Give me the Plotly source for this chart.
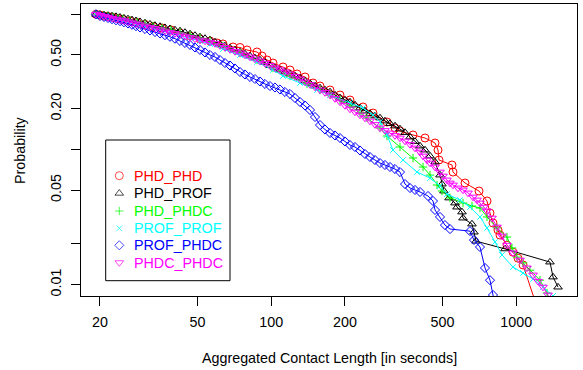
import plotly.graph_objects as go

# ---------------- data ----------------
names = ["PHD_PHD", "PHD_PROF", "PHD_PHDC", "PROF_PROF", "PROF_PHDC", "PHDC_PHDC"]

phd_phd_x = [19.26, 20.0, 20.77, 21.56, 22.60, 23.69, 24.82, 26.51, 28.32, 30.53, 32.92, 35.82, 38.99, 42.42, 46.62, 51.20,
             56.24, 60.06, 63.54, 69.82, 74.55, 79.62, 87.46, 91.67, 96.08, 101.66, 111.69, 119.28, 127.41, 137.36, 148.08,
             158.15, 173.74, 190.82, 209.62, 236.90, 260.22, 296.80, 319.98, 335.40, 379.0, 424.3, 466.1, 479.4, 483.9,
             546.7, 551.9, 617.8, 704.6, 759.7, 781.4, 803.7, 842.4, 858.4, 916.8, 969.9, 1017, 1066, 1227]
phd_phd_y = [1.0, 0.9882, 0.9715, 0.9632, 0.9469, 0.9310, 0.9152, 0.8921, 0.8696, 0.8405, 0.8124, 0.7919, 0.7653, 0.7272, 0.6910, 0.6566,
             0.6346, 0.6134, 0.6030, 0.5730, 0.5681, 0.5444, 0.5262, 0.4915, 0.4591, 0.4362, 0.4075, 0.3872, 0.3617, 0.3437, 0.3103,
             0.2948, 0.2754, 0.2529, 0.2323, 0.2062, 0.1861, 0.1597, 0.1442, 0.1370, 0.1280, 0.1216, 0.1117, 0.0991, 0.0836,
             0.0768, 0.0681, 0.0565, 0.0493, 0.0416, 0.0339, 0.0286, 0.0254, 0.0233, 0.0196, 0.0174, 0.0157, 0.0140, 0.0065]

phd_prof_x = [19.26, 20.00, 20.77, 21.56, 22.39, 23.25, 24.14, 25.06, 26.02, 27.02, 28.05, 29.13, 30.53, 32.00, 33.54,
              35.15, 36.84, 38.61, 40.47, 42.42, 44.45, 46.62, 48.83, 51.20, 53.66, 56.24, 58.94, 61.77, 64.74, 67.86,
              71.12, 74.55, 78.13, 81.90, 85.83, 89.96, 94.28, 98.82, 103.57, 108.55, 113.77, 119.28, 125.01, 131.06,
              137.36, 143.96, 150.88, 158.15, 165.74, 173.74, 182.09, 190.82, 200.01, 209.62, 219.70, 230.30, 241.34,
              252.96, 265.10, 277.90, 291.23, 305.32, 319.98, 335.40, 351.6, 368.5, 386.2, 404.8,
              424.3, 444.7, 466.1, 488.5, 497.7, 507.1, 531.5, 562.4, 573.0, 600.6, 606.3, 659.7, 672.2, 685.0,
              899.7, 1373, 1413, 1481]
phd_prof_y = [1.0, 0.9966, 0.9882, 0.9798, 0.9715, 0.9616, 0.9502, 0.9357, 0.9231, 0.9090, 0.8952, 0.8816, 0.8623, 0.8448,
              0.8263, 0.8124, 0.7959, 0.7811, 0.7653, 0.7524, 0.7334, 0.7149, 0.6969, 0.6793, 0.6622, 0.6455, 0.6239, 0.6030,
              0.5828, 0.5632, 0.5444, 0.5262, 0.5085, 0.4915, 0.4750, 0.4591, 0.4400, 0.4180, 0.4006, 0.3872, 0.3742, 0.3617,
              0.3496, 0.3379, 0.3210, 0.3077, 0.2948, 0.2850, 0.2754, 0.2662, 0.2529, 0.2403, 0.2323, 0.2245, 0.2133, 0.2027,
              0.1926, 0.1845, 0.1769, 0.1710, 0.1624, 0.1556, 0.1492, 0.1417, 0.1335, 0.1237, 0.1146, 0.1061,
              0.0991, 0.0895, 0.0808, 0.0647, 0.0555, 0.0493, 0.0438, 0.0402, 0.0375, 0.0345, 0.0311, 0.0281, 0.0245, 0.0210,
              0.0184, 0.0147, 0.0114, 0.0096]

phd_phdc_x = [19.26, 20.0, 20.77, 21.56, 22.60, 23.69, 24.82, 26.51, 28.32, 30.53, 32.92, 35.82, 38.99, 42.42, 46.62, 51.20,
              56.24, 63.54, 74.55, 87.46, 101.66, 119.28, 139.97, 158.15, 173.74, 190.82, 209.62, 230.30, 245.96, 277.90,
              296.80, 335.40, 379.0, 416.4, 444.7, 474.9, 497.7, 536.5, 606.3, 659.7, 711.3, 759.7, 834.5, 916.8, 960.8,
              1007, 1066, 1138, 1250, 1335, 1399]
phd_phdc_y = [1.0, 0.9882, 0.9798, 0.9715, 0.9551, 0.9389, 0.9231, 0.8998, 0.8771, 0.8477, 0.8193, 0.7919, 0.7653, 0.7334, 0.7029, 0.6679,
              0.6346, 0.5828, 0.5173, 0.4591, 0.4006, 0.3496, 0.3051, 0.2754, 0.2529, 0.2323, 0.2097, 0.1861, 0.1710, 0.1442,
              0.1258, 0.1043, 0.0865, 0.0742, 0.0647, 0.0546, 0.0493, 0.0438, 0.0402, 0.0382, 0.0369, 0.0317, 0.0263, 0.0225, 0.0187,
              0.0160, 0.0145, 0.0128, 0.0108, 0.00868, 0.0065]

prof_prof_x = [19.26, 20.0, 20.77, 21.56, 22.60, 23.69, 24.82, 26.51, 28.32, 30.53, 32.92, 35.82, 38.99, 42.42, 46.62, 51.20,
               56.24, 63.54, 74.55, 87.46, 101.66, 111.69, 131.06, 153.75, 173.74, 209.62, 236.90, 260.22, 277.90, 296.80,
               314.04, 345.0, 393.5, 444.7, 488.5, 521.6, 589.4, 647.4, 711.3, 759.7, 819.0, 874.7, 969.9, 1066, 1171, 1286,
               1413, 1481]
prof_prof_y = [1.0, 0.9715, 0.9551, 0.9389, 0.9231, 0.9075, 0.8921, 0.8623, 0.8405, 0.8124, 0.7785, 0.7524, 0.7272, 0.6910, 0.6679, 0.6346,
               0.6030, 0.5538, 0.4999, 0.4437, 0.3872, 0.3496, 0.3103, 0.2754, 0.2529, 0.2207, 0.2027, 0.1799, 0.1597, 0.1280,
               0.0991, 0.0836, 0.0681, 0.0615, 0.0537, 0.0468, 0.0423, 0.0375, 0.0317, 0.0263, 0.0207, 0.0166, 0.0135, 0.0122, 0.0110, 0.0096,
               0.00825, 0.0065]

prof_phdc_x = [19.26, 20.00, 20.77, 21.56, 22.39, 23.25, 24.14, 25.06, 26.02, 27.02, 28.05, 29.13, 30.53, 32.00, 33.54,
               35.15, 36.84, 38.61, 40.47, 42.42, 44.45, 46.62, 48.83, 51.20, 53.66, 56.24, 58.94, 61.77, 64.74, 67.86,
               71.12, 74.55, 78.13, 81.90, 85.83, 89.96, 94.28, 98.82, 103.57, 108.55, 113.77, 119.28, 125.01, 131.06,
               137.36, 143.96, 150.88, 158.15, 165.74, 173.74, 182.09, 190.82, 200.01, 209.62, 219.70, 230.30, 241.34,
               252.96, 265.10, 277.90, 291.23, 305.32, 319.98, 335.40, 351.6, 368.5, 386.2, 404.8,
               436.4, 457.4, 466.1, 488.5, 511.9, 536.5, 647.4, 672.2, 711.3, 745.5, 781.4, 803.7, 826.7]
prof_phdc_y = [1.0, 0.9715, 0.9551, 0.9389, 0.9199, 0.9028, 0.8891, 0.8726, 0.8550, 0.8362, 0.8165, 0.7987, 0.7785, 0.7589,
               0.7397, 0.7210, 0.7005, 0.6816, 0.6599, 0.6346, 0.6134, 0.5928, 0.5681, 0.5444, 0.5217, 0.4999, 0.4832, 0.4591,
               0.4362, 0.4180, 0.3972, 0.3742, 0.3586, 0.3437, 0.3322, 0.3183, 0.3051, 0.2948, 0.2874, 0.2778, 0.2662, 0.2573,
               0.2403, 0.2245, 0.2115, 0.1959, 0.1739, 0.1517, 0.1405, 0.1324, 0.1269, 0.1216, 0.1146, 0.1079, 0.1043, 0.0983,
               0.0926, 0.0880, 0.0836, 0.0794, 0.0768, 0.0742, 0.0717, 0.0681, 0.0555, 0.0519, 0.0502, 0.0485,
               0.0453, 0.0416, 0.0357, 0.0317, 0.0276, 0.0258, 0.0249, 0.0214, 0.0190, 0.0133, 0.0108, 0.00839, 0.0065]

phdc_phdc_x = [19.26, 20.00, 20.77, 21.56, 22.39, 23.25, 24.14, 25.06, 26.02, 27.02, 28.05, 29.13, 30.53, 32.00, 33.54,
               35.15, 36.84, 38.61, 40.47, 42.42, 44.45, 46.62, 48.83, 51.20, 53.66, 56.24, 58.94, 61.77, 64.74, 67.86,
               71.12, 74.55, 78.13, 81.90, 85.83, 89.96, 94.28, 98.82, 103.57, 108.55, 113.77, 119.28, 125.01, 131.06,
               137.36, 143.96, 150.88, 158.15, 165.74, 173.74, 182.09, 190.82, 200.01, 209.62, 219.70, 230.30, 241.34,
               252.96, 265.10, 277.90, 291.23, 305.32, 319.98, 335.40, 351.6, 368.5, 386.2, 404.8,
               416.4, 432.3, 444.7, 466.1, 488.5, 502.4, 521.6, 536.5, 551.9, 578.4, 606.3, 635.4, 666.0, 691.5, 711.3,
               738.6, 759.7, 796.2, 834.5, 874.7, 916.8, 969.9, 1036, 1106, 1171, 1227, 1286, 1348, 1399]
phdc_phdc_y = [1.0, 0.9798, 0.9632, 0.9469, 0.9341, 0.9199, 0.9075, 0.8952, 0.8801, 0.8652, 0.8506, 0.8377, 0.8193, 0.8014,
               0.7851, 0.7693, 0.7524, 0.7359, 0.7210, 0.7052, 0.6886, 0.6736, 0.6588, 0.6455, 0.6346, 0.6217, 0.6082, 0.5878,
               0.5681, 0.5490, 0.5307, 0.5173, 0.4999, 0.4832, 0.4670, 0.4513, 0.4340, 0.4180, 0.4020, 0.3885, 0.3742, 0.3617,
               0.3466, 0.3322, 0.3156, 0.3024, 0.2899, 0.2754, 0.2640, 0.2529, 0.2383, 0.2245, 0.2115, 0.1993, 0.1893, 0.1799,
               0.1710, 0.1624, 0.1530, 0.1442, 0.1382, 0.1324, 0.1269, 0.1216, 0.1155, 0.1089, 0.1025, 0.0958,
               0.0895, 0.0836, 0.0794, 0.0742, 0.0681, 0.0636, 0.0595, 0.0565, 0.0546, 0.0519, 0.0502, 0.0477, 0.0445, 0.0423,
               0.0402, 0.0375, 0.0351, 0.0311, 0.0267, 0.0229, 0.0196, 0.0172, 0.0152, 0.0133, 0.0118, 0.0106, 0.0096, 0.00839, 0.00707]

x_ticks = [20, 50, 100, 200, 500, 1000]
x_tick_labels = ["20", "50", "100", "200", "500", "1000"]
y_ticks = [0.01, 0.02, 0.05, 0.1, 0.2, 0.5, 1.0]
y_tick_labels = ["0.01", "", "0.05", "", "0.20", "0.50", ""]

x_title = "Aggregated Contact Length [in seconds]"
y_title = "Probability"

# ---------------- styles ----------------
FONT = "Liberation Sans, Arial, sans-serif"
FS = 14.3
colors = ["#FF0000", "#000000", "#00FF00", "#00FFFF", "#0000FF", "#FF00FF"]
symbols = ["circle-open", "triangle-up-open", "cross-thin-open", "x-thin-open", "diamond-open", "triangle-down-open"]
msizes = [8, 7.5, 6, 5.5, 7, 7.5]

series_x = [phd_phd_x, phd_prof_x, phd_phdc_x, prof_prof_x, prof_phdc_x, phdc_phdc_x]
series_y = [phd_phd_y, phd_prof_y, phd_phdc_y, prof_prof_y, prof_phdc_y, phdc_phdc_y]

fig = go.Figure()
for i, name in enumerate(names):
    fig.add_trace(go.Scatter(
        x=series_x[i], y=series_y[i], mode="lines+markers", name=name, showlegend=False,
        line=dict(color=colors[i], width=1),
        marker=dict(symbol=symbols[i], size=msizes[i], color=colors[i],
                    line=dict(color=colors[i], width=1)),
    ))

# ---------------- legend box (drawn manually, R style) ----------------
W, H = 583, 370
L, R, T, B = 81, 6, 4, 74
PW, PH = W - L - R, H - T - B


def fx(px):
    return (px - L) / PW


def fy(py):
    return (H - B - py) / PH


leg_rows = [175.7, 193.3, 211.0, 228.3, 245.3, 262.6]
leg_sym_x = 119.3
leg_txt_x = 132.0

fig.add_trace(go.Scatter(
    x=[fx(leg_sym_x)] * len(names), y=[fy(r) for r in leg_rows],
    xaxis="x2", yaxis="y2", mode="markers", showlegend=False, hoverinfo="skip",
    marker=dict(symbol=symbols, size=msizes, color=colors, line=dict(color=colors, width=1)),
))

fig.add_shape(type="rect", xref="paper", yref="paper",
              x0=fx(105.7), x1=fx(230.0), y0=fy(280.7), y1=fy(140.0),
              line=dict(color="#000000", width=1))

for i, name in enumerate(names):
    fig.add_annotation(x=fx(leg_txt_x), y=fy(leg_rows[i]), xref="paper", yref="paper",
                       text=name, showarrow=False, xanchor="left", yanchor="middle",
                       font=dict(family=FONT, size=FS, color=colors[i]))

# axis titles
fig.add_annotation(x=0.5, y=0, xref="paper", yref="paper", yshift=-(358 - (H - B)),
                   text=x_title, showarrow=False, xanchor="center", yanchor="middle",
                   font=dict(family=FONT, size=FS, color="#000000"))
fig.add_annotation(x=0, y=0.5, xref="paper", yref="paper", xshift=20 - L,
                   text=y_title, showarrow=False, textangle=-90, xanchor="center", yanchor="middle",
                   font=dict(family=FONT, size=FS, color="#000000"))

axis_common = dict(showgrid=False, zeroline=False, showline=True, mirror=True,
                   linecolor="#000000", linewidth=1, ticks="outside", ticklen=9,
                   tickwidth=1, tickcolor="#000000",
                   tickfont=dict(family=FONT, size=FS, color="#000000"))

fig.update_layout(
    width=W, height=H, margin=dict(l=L, r=R, t=T, b=B, autoexpand=False),
    paper_bgcolor="white", plot_bgcolor="white", showlegend=False,
    font=dict(family=FONT, size=FS, color="#000000"),
    xaxis=dict(type="log", range=[1.2235, 3.248], tickvals=x_ticks, ticktext=x_tick_labels,
               ticklabelstandoff=4, **axis_common),
    yaxis=dict(type="log", range=[-2.0836, 0.076], tickvals=y_ticks, ticktext=y_tick_labels,
               tickangle=-90, ticklabelstandoff=4, **axis_common),
    xaxis2=dict(overlaying="x", anchor="y2", range=[0, 1], visible=False, fixedrange=True),
    yaxis2=dict(overlaying="y", anchor="x2", range=[0, 1], visible=False, fixedrange=True),
)

fig.write_html("out.html")
